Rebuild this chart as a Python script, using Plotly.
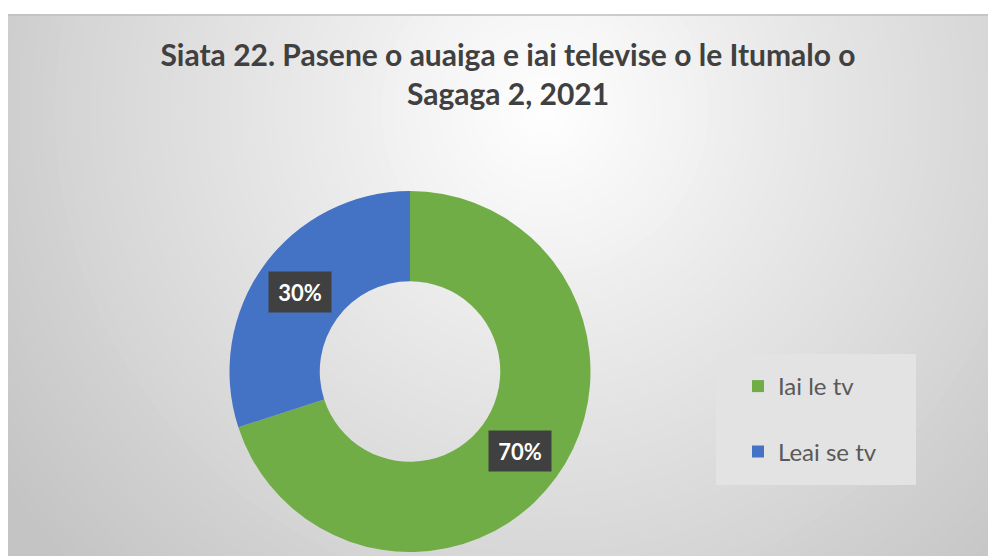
import math
import plotly.graph_objects as go

labels = ["Iai le tv", "Leai se tv"]
values = [70, 30]
colors = ["#70ad47", "#4472c4"]

W, H = 996, 556
OFF = 8  # page body margin shifts the figure; compensate
title = "Siata 22. Pasene o auaiga e iai televise o le Itumalo o<br>Sagaga 2, 2021"


def fx(x):
    return (x - OFF) / W


def fy(y):
    return 1 - (y - OFF) / H


# donut placement (pixels)
cx_px, cy_px, r_px = 410, 371.5, 180.5
hole = 0.5

# legend labels: spacer line under first item to widen the gap
legend_labels = [labels[0] + "<br>&nbsp;", labels[1]]

fig = go.Figure(go.Pie(
    labels=legend_labels,
    values=values,
    customdata=labels,
    marker=dict(colors=colors, line=dict(width=0)),
    hole=hole,
    sort=False,
    direction="clockwise",
    textinfo="none",
    hovertemplate="%{customdata}: %{percent}<extra></extra>",
    domain=dict(x=[fx(cx_px - r_px), fx(cx_px + r_px)],
                y=[fy(cy_px + r_px), fy(cy_px - r_px)]),
))

# background: radial gradient approximated with concentric circles
shapes = []
gx, gy = 545, 110
rmax = 700
steps = 60
c_out, c_in = 196, 255
for i in range(steps):
    rr = rmax * (1 - i / steps)
    t = rr / rmax
    c = int(round(c_in + (c_out - c_in) * min(1, t / 0.95)))
    shapes.append(dict(type="circle", xref="paper", yref="paper", layer="below",
                       x0=fx(gx - rr), x1=fx(gx + rr),
                       y0=fy(gy + rr), y1=fy(gy - rr),
                       fillcolor=f"rgb({c},{c},{c})", line=dict(width=0)))
# white outside the chart area
shapes.append(dict(type="rect", xref="paper", yref="paper", layer="below",
                   x0=-0.1, x1=1.1, y0=fy(14), y1=1.1,
                   fillcolor="white", line=dict(width=0)))
shapes.append(dict(type="rect", xref="paper", yref="paper", layer="below",
                   x0=-0.1, x1=fx(7), y0=-0.1, y1=1.1,
                   fillcolor="white", line=dict(width=0)))
shapes.append(dict(type="line", xref="paper", yref="paper", layer="below",
                   x0=fx(7), x1=1.1, y0=fy(15), y1=fy(15),
                   line=dict(color="#bfbfbf", width=1.5)))
# legend box
shapes.append(dict(type="rect", xref="paper", yref="paper", layer="below",
                   x0=fx(716), x1=fx(916), y0=fy(485), y1=fy(354),
                   fillcolor="#e3e3e3", line=dict(width=0)))

# percentage labels in dark boxes at slice midpoints
annotations = []
total = sum(values)
start = 0.0
r_mid = r_px * (1 + hole) / 2
for v in values:
    mid = (start + v / 2) / total * 2 * math.pi
    px = cx_px + r_mid * math.sin(mid)
    py = cy_px - r_mid * math.cos(mid)
    annotations.append(dict(
        x=fx(px), y=fy(py), xref="paper", yref="paper",
        text=f"<b>{round(v / total * 100)}%</b>", showarrow=False,
        font=dict(family="Lato, Open Sans, sans-serif", size=22, color="white"),
        bgcolor="#404040", borderpad=7, width=48, height=26,
        xanchor="center", yanchor="middle",
    ))
    start += v

fig.update_layout(
    width=W, height=H,
    margin=dict(l=0, r=0, t=0, b=0),
    paper_bgcolor="white",
    title=dict(text=f"<b>{title}</b>", x=fx(508), xanchor="center",
               y=fy(66), yanchor="middle",
               font=dict(family="Lato, Open Sans, sans-serif", size=30, color="#404040")),
    legend=dict(x=fx(738), y=fy(364), xanchor="left", yanchor="top", valign="top",
                bgcolor="rgba(0,0,0,0)",
                font=dict(family="Lato, Open Sans, sans-serif", size=24, color="#595959")),
    shapes=shapes,
    annotations=annotations,
)

fig.write_html("out.html")
